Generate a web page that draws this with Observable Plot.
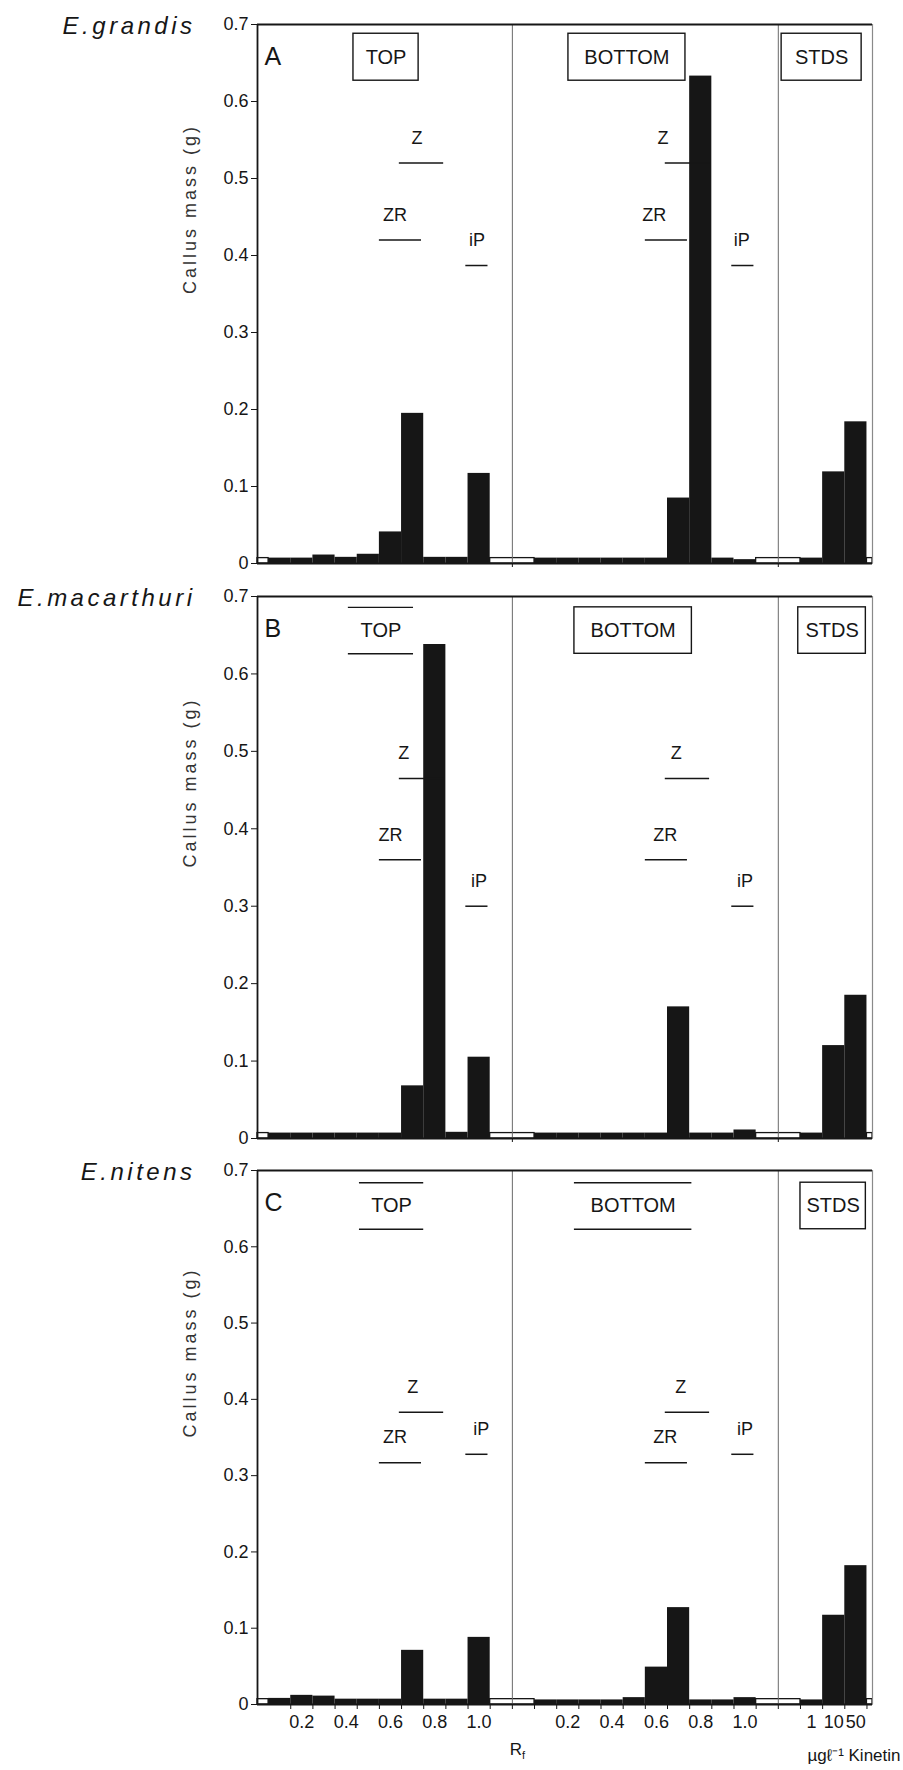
<!DOCTYPE html>
<html>
<head>
<meta charset="utf-8">
<script src="https://cdn.jsdelivr.net/npm/d3@7"></script>
<script src="https://cdn.jsdelivr.net/npm/@observablehq/plot@0.6"></script>
<style>
  body { margin: 0; background: #fff; }
  #chart { position: relative; width: 903px; height: 1770px; background: #fff; overflow: hidden; }
  #chart svg { position: absolute; left: 0; display: block; }
</style>
</head>
<body>
<div id="chart"></div>
<script>
// ---- data -------------------------------------------------------------
// Rf fractions cut from the TOP and BOTTOM halves of each chromatogram
const rfFractions = [0.1, 0.2, 0.3, 0.4, 0.5, 0.6, 0.7, 0.8, 0.9, 1.0];
// kinetin standards, µg per litre
const kinetinDoses = ["1", "10", "50"];
const rfTickLabels = ["0.2", "0.4", "0.6", "0.8", "1.0"];
const yTicks = [0, 0.1, 0.2, 0.3, 0.4, 0.5, 0.6, 0.7];

// callus mass (g) per fraction
const grandisTop    = [0.007, 0.007, 0.011, 0.008, 0.012, 0.041, 0.195, 0.008, 0.008, 0.117];
const grandisBottom = [0.007, 0.007, 0.007, 0.007, 0.007, 0.007, 0.085, 0.633, 0.007, 0.005];
const grandisStds   = [0.007, 0.119, 0.184];

const macarthuriTop    = [0.007, 0.007, 0.007, 0.007, 0.007, 0.007, 0.068, 0.638, 0.008, 0.105];
const macarthuriBottom = [0.007, 0.007, 0.007, 0.007, 0.007, 0.007, 0.170, 0.007, 0.007, 0.011];
const macarthuriStds   = [0.007, 0.120, 0.185];

const nitensTop    = [0.008, 0.012, 0.011, 0.007, 0.007, 0.007, 0.071, 0.007, 0.007, 0.088];
const nitensBottom = [0.006, 0.006, 0.006, 0.006, 0.009, 0.049, 0.127, 0.006, 0.006, 0.009];
const nitensStds   = [0.006, 0.117, 0.182];

// cytokinin standards co-chromatographed: name and Rf run
const markerNames = ["Z", "ZR", "iP"];
const markerRf = [[0.64, 0.84], [0.55, 0.74], [0.94, 1.04]];

// ---- layout -----------------------------------------------------------
// x runs in lane units: TOP lanes 1..10, BOTTOM lanes 13..22, STDS lanes 25..27
const BOTTOM_OFFSET = 12;
const STDS_OFFSET = 24;
const LANE_END = 27.75;
const laneFloor = 0.007;          // height of the outlined empty lanes
const FONT = "'Liberation Sans', Arial, Helvetica, sans-serif";
const INK = "#161616";

const lane = (section, rf) => (section === "TOP" ? 0 : BOTTOM_OFFSET) + rf * 10;

function barsOf(top, bottom, stds) {
  const rows = [];
  rfFractions.forEach((rf, i) => {
    rows.push({p: lane("TOP", rf), v: top[i]});
    rows.push({p: lane("BOTTOM", rf), v: bottom[i]});
  });
  kinetinDoses.forEach((k, i) => rows.push({p: STDS_OFFSET + 1 + i, v: stds[i]}));
  return rows;
}

// empty lanes between the sections
const emptyLanes = [
  [0, 0.5],
  [10.5, BOTTOM_OFFSET + 0.5],
  [BOTTOM_OFFSET + 10.5, STDS_OFFSET + 0.5],
  [STDS_OFFSET + 3.5, LANE_END]
];
const dividers = [(10.5 + BOTTOM_OFFSET + 0.5) / 2, (BOTTOM_OFFSET + 10.5 + STDS_OFFSET + 0.5) / 2];

const panels = [
  {
    letter: "A", species: "E.grandis",
    top: grandisTop, bottom: grandisBottom, stds: grandisStds,
    height: 571, mt: 24, mb: 8, offsetTop: 0,
    markerY: [0.52, 0.42, 0.387],
    labelRf: {TOP: [0.72, 0.62, 0.99], BOTTOM: [0.63, 0.59, 0.985]},
    boxes: [["TOP", 4.33, 7.27, "box"], ["BOTTOM", 14.03, 19.31, "box"], ["STDS", 23.65, 27.26, "box"]],
    boxY: [0.627, 0.688]
  },
  {
    letter: "B", species: "E.macarthuri",
    top: macarthuriTop, bottom: macarthuriBottom, stds: macarthuriStds,
    height: 575, mt: 25, mb: 8, offsetTop: 571,
    markerY: [0.465, 0.36, 0.30],
    labelRf: {TOP: [0.66, 0.6, 1.0], BOTTOM: [0.69, 0.64, 1.0]},
    boxes: [["TOP", 4.1, 7.04, "lines"], ["BOTTOM", 14.3, 19.6, "box"], ["STDS", 24.4, 27.45, "box"]],
    boxY: [0.626, 0.686]
  },
  {
    letter: "C", species: "E.nitens",
    top: nitensTop, bottom: nitensBottom, stds: nitensStds,
    height: 624, mt: 24, mb: 66, offsetTop: 1146,
    markerY: [0.383, 0.317, 0.328],
    labelRf: {TOP: [0.70, 0.62, 1.01], BOTTOM: [0.71, 0.64, 1.0]},
    boxes: [["TOP", 4.6, 7.5, "lines"], ["BOTTOM", 14.3, 19.6, "lines"], ["STDS", 24.5, 27.45, "box"]],
    boxY: [0.623, 0.684],
    xAxis: true
  }
];

const container = document.getElementById("chart");

for (const cfg of panels) {
  const bars = barsOf(cfg.top, cfg.bottom, cfg.stds);

  const markers = [];
  for (const section of ["TOP", "BOTTOM"]) {
    markerNames.forEach((name, i) => {
      markers.push({
        name,
        x1: lane(section, markerRf[i][0]),
        x2: lane(section, markerRf[i][1]),
        xl: lane(section, cfg.labelRf[section][i]),
        y: cfg.markerY[i]
      });
    });
  }

  const boxes = cfg.boxes.map(([text, x1, x2, style]) => ({text, x1, x2, style}));
  const [by1, by2] = cfg.boxY;

  const marks = [
    // outlined empty lanes
    Plot.rect(emptyLanes, {x1: d => d[0], x2: d => d[1], y1: () => 0, y2: () => laneFloor,
      fill: "white", stroke: INK, strokeWidth: 1.3}),
    // callus mass bars
    Plot.rect(bars, {x1: d => d.p - 0.5, x2: d => d.p + 0.5, y1: () => 0, y2: "v", fill: INK}),
    // section dividers and frame
    Plot.ruleX(dividers, {stroke: "#6a6a6a", strokeWidth: 1}),
    Plot.ruleX([LANE_END], {stroke: "#8a8a8a", strokeWidth: 1.2}),
    Plot.ruleY([0.7], {stroke: INK, strokeWidth: 1.8}),
    Plot.ruleX([0], {stroke: INK, strokeWidth: 1.8}),
    Plot.ruleY([0], {stroke: INK, strokeWidth: 2}),
    Plot.axisY(yTicks, {tickSize: 6, tickPadding: 3, fontSize: 18, label: null,
      tickFormat: d => d === 0 ? "0" : d.toFixed(1)}),
    // standards markers
    Plot.ruleY(markers, {x1: "x1", x2: "x2", y: "y", stroke: INK, strokeWidth: 1.5}),
    Plot.text(markers, {x: "xl", y: "y", text: "name", dy: -25, fontSize: 18, fill: INK}),
    // section labels
    Plot.rect(boxes.filter(d => d.style === "box"), {x1: "x1", x2: "x2", y1: () => by1, y2: () => by2,
      fill: "none", stroke: INK, strokeWidth: 1.4}),
    Plot.ruleY(boxes.filter(d => d.style === "lines"), {x1: "x1", x2: "x2", y: () => by1, stroke: INK, strokeWidth: 1.4}),
    Plot.ruleY(boxes.filter(d => d.style === "lines"), {x1: "x1", x2: "x2", y: () => by2, stroke: INK, strokeWidth: 1.4}),
    Plot.text(boxes, {x: d => (d.x1 + d.x2) / 2, y: () => (by1 + by2) / 2, text: "text", fontSize: 20, fill: INK}),
    // panel letter, species and y label
    Plot.text([cfg.letter], {frameAnchor: "top-left", dx: 7, dy: 23, lineAnchor: "top", fontSize: 25, fill: INK}),
    Plot.text([cfg.species], {frameAnchor: "top-left", dx: -62, dy: 9, lineAnchor: "bottom", textAnchor: "end",
      fontSize: 24, fontStyle: "italic", fill: INK}),
    Plot.text(["Callus mass (g)"], {frameAnchor: "left", dx: -67, rotate: -90, fontSize: 18, fill: "#333"})
  ];

  if (cfg.xAxis) {
    const tickLanes = [];
    const tickText = new Map();
    rfTickLabels.forEach(t => {
      const rf = +t;
      tickLanes.push(lane("TOP", rf));
      tickText.set(lane("TOP", rf), t);
      tickLanes.push(lane("BOTTOM", rf));
      tickText.set(lane("BOTTOM", rf), t);
    });
    kinetinDoses.forEach((k, i) => {
      tickLanes.push(STDS_OFFSET + 1 + i);
      tickText.set(STDS_OFFSET + 1 + i, k);
    });
    marks.push(
      Plot.axisX(d3.range(1.5, 27.6, 1), {tickSize: 5, tickFormat: () => "", label: null, stroke: INK}),
      Plot.axisX(tickLanes, {tickSize: 0, tickPadding: 11, fontSize: 18, label: null,
        tickFormat: d => tickText.get(d)}),
      Plot.text(["µgℓ\u207B\u00B9 Kinetin"], {frameAnchor: "bottom-right", dx: 28, dy: 56,
        lineAnchor: "bottom", textAnchor: "end", fontSize: 17, fill: INK})
    );
  } else {
    marks.push(Plot.axisX(dividers, {tickSize: 4, tickFormat: () => "", label: null}));
  }

  const chart = Plot.plot({
    width: 903,
    height: cfg.height,
    marginLeft: 257,
    marginRight: 903 - 872,
    marginTop: cfg.mt,
    marginBottom: cfg.mb,
    x: {domain: [0, LANE_END], label: null},
    y: {domain: [0, 0.7], label: null},
    style: {fontFamily: FONT, fontSize: "17px", color: INK, background: "transparent", overflow: "visible"},
    marks
  });

  chart.style.top = cfg.offsetTop + "px";
  container.appendChild(chart);

  // spaced lettering for the species names and the y title
  d3.select(chart).selectAll("text")
    .filter(function () { return this.textContent === cfg.species; })
    .attr("letter-spacing", "3.5px");
  d3.select(chart).selectAll("text")
    .filter(function () { return this.textContent === "Callus mass (g)"; })
    .attr("letter-spacing", "3px");

  if (cfg.xAxis) {
    // R with subscript f under the chromatogram lanes
    const x = chart.scale("x").apply(11.75);
    const t = d3.select(chart).append("text")
      .attr("x", x).attr("y", cfg.height - 15)
      .attr("text-anchor", "middle")
      .attr("font-family", FONT).attr("font-size", 17).attr("fill", INK);
    t.append("tspan").text("R");
    t.append("tspan").attr("font-size", 11).attr("dy", 4).text("f");
  }
}
</script>
</body>
</html>
